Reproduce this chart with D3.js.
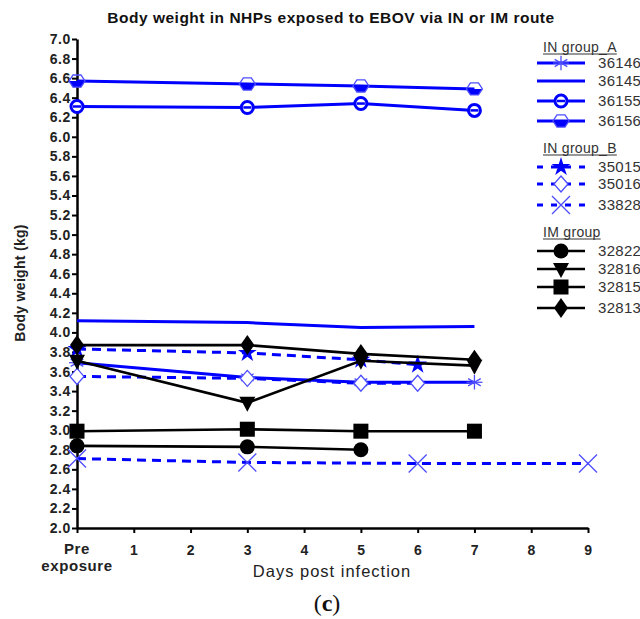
<!DOCTYPE html>
<html>
<head>
<meta charset="utf-8">
<script src="https://cdn.jsdelivr.net/npm/d3@7.9.0/dist/d3.min.js"></script>
<style>
  body { margin: 0; background: #fff; }
  svg { font-family: "Liberation Sans", Arial, sans-serif; }
</style>
</head>
<body>
<svg id="chart" width="640" height="619"></svg>
<script>
// tick labels
const xTicks = [0, 1, 2, 3, 4, 5, 6, 7, 8, 9];
const yTicks = d3.range(2.0, 7.01, 0.2);

// IN group A
const id36146 = { days: [0, 3, 5, 7], kg: [3.69, 3.54, 3.49, 3.49] };
const id36145 = { days: [0, 3, 5, 7], kg: [4.12, 4.10, 4.05, 4.06] };
const id36155 = { days: [0, 3, 5, 7], kg: [6.31, 6.30, 6.34, 6.27] };
const id36156 = { days: [0, 3, 5, 7], kg: [6.57, 6.54, 6.52, 6.49] };
// IN group B
const id35015 = { days: [0, 3, 5, 6], kg: [3.83, 3.79, 3.72, 3.67] };
const id35016 = { days: [0, 3, 5, 6], kg: [3.55, 3.53, 3.48, 3.48] };
const id33828 = { days: [0, 3, 6, 9], kg: [2.71, 2.67, 2.66, 2.66] };
// IM group
const id32822 = { days: [0, 3, 5], kg: [2.84, 2.83, 2.80] };
const id32816 = { days: [0, 3, 5, 7], kg: [3.71, 3.28, 3.71, 3.66] };
const id32815 = { days: [0, 3, 5, 7], kg: [2.99, 3.01, 2.99, 2.99] };
const id32813 = { days: [0, 3, 5, 7], kg: [3.87, 3.87, 3.78, 3.72] };

const BLUE = "#0000ff", LIGHT = "#4d4dff", BLACK = "#000";

const series = [
  { name: "36146", d: id36146, color: BLUE, dash: null, mk: "asterisk" },
  { name: "36145", d: id36145, color: BLUE, dash: null, mk: "none" },
  { name: "36155", d: id36155, color: BLUE, dash: null, mk: "thetacircle" },
  { name: "36156", d: id36156, color: BLUE, dash: null, mk: "hexagon" },
  { name: "35015", d: id35015, color: BLUE, dash: "9,6", mk: "star" },
  { name: "35016", d: id35016, color: BLUE, dash: "9,6", mk: "opendiamond" },
  { name: "33828", d: id33828, color: BLUE, dash: "9,6", mk: "times" },
  { name: "32822", d: id32822, color: BLACK, dash: null, mk: "circle" },
  { name: "32816", d: id32816, color: BLACK, dash: null, mk: "triangle" },
  { name: "32815", d: id32815, color: BLACK, dash: null, mk: "square" },
  { name: "32813", d: id32813, color: BLACK, dash: null, mk: "diamond" }
];

const svg = d3.select("#chart");
const x = d3.scaleLinear().domain([0, 9]).range([77, 588]);
const y = d3.scaleLinear().domain([2, 7]).range([528, 39]);

// title
svg.append("text").attr("x", 331).attr("y", 23).attr("text-anchor", "middle")
  .attr("font-size", 15.5).attr("font-weight", "bold").attr("letter-spacing", 0.5)
  .attr("fill", "#111").text("Body weight in NHPs exposed to EBOV via IN or IM route");

// axes
const yAxis = svg.append("g").attr("transform", "translate(77,0)")
  .call(d3.axisLeft(y).tickValues(yTicks).tickFormat(d3.format(".1f")).tickSize(5).tickSizeOuter(0));
const xAxis = svg.append("g").attr("transform", "translate(0,528)")
  .call(d3.axisBottom(x).tickValues(xTicks).tickFormat(d => d === 0 ? "" : d).tickSize(5).tickSizeOuter(0));
[yAxis, xAxis].forEach(g => {
  g.select(".domain").attr("stroke", "#000").attr("stroke-width", 2.5);
  g.selectAll(".tick line").attr("stroke", "#000").attr("stroke-width", 2);
  g.selectAll(".tick text").attr("fill", "#222").attr("font-size", 14).attr("font-weight", "bold")
    .attr("letter-spacing", 0.6).attr("font-family", "Liberation Sans, Arial, sans-serif");
});
yAxis.selectAll(".tick text").attr("x", -6);
xAxis.selectAll(".tick text").attr("y", 17);
const pre = svg.append("text").attr("text-anchor", "middle").attr("font-size", 15)
  .attr("font-weight", "bold").attr("letter-spacing", 0.6).attr("fill", "#222");
pre.append("tspan").attr("x", x(0)).attr("y", 554).text("Pre");
pre.append("tspan").attr("x", x(0)).attr("y", 571).text("exposure");

svg.append("text").attr("x", 332).attr("y", 577).attr("text-anchor", "middle")
  .attr("font-size", 16.5).attr("letter-spacing", 1).attr("fill", "#222").text("Days post infection");
svg.append("text").attr("transform", "translate(25,283) rotate(-90)").attr("text-anchor", "middle")
  .attr("font-size", 14).attr("font-weight", "bold").attr("letter-spacing", 0.3)
  .attr("fill", "#222").text("Body weight (kg)");
svg.append("text").attr("x", 327).attr("y", 611).attr("text-anchor", "middle")
  .attr("font-size", 24).attr("font-family", "Liberation Serif, serif").attr("fill", "#111")
  .html("(<tspan font-weight='bold'>c</tspan>)");

// marker drawing
function marker(g, type, color, cx, cy) {
  const s = g.append("g").attr("transform", `translate(${cx},${cy})`);
  switch (type) {
    case "asterisk":
      s.append("path").attr("d", d3.symbol(d3.symbolAsterisk, 150)())
        .attr("fill", "none").attr("stroke", LIGHT).attr("stroke-width", 1.3);
      s.append("path").attr("d", "M-8,0H8").attr("stroke", LIGHT).attr("stroke-width", 1.3);
      break;
    case "thetacircle":
      s.append("circle").attr("r", 6).attr("fill", "#fff").attr("stroke", color).attr("stroke-width", 3);
      s.append("path").attr("d", "M-4,0H4").attr("stroke", color).attr("stroke-width", 2.5);
      break;
    case "hexagon": {
      const pts = d3.range(6).map(i => [8 * Math.cos(Math.PI / 3 * i), 7 * Math.sin(Math.PI / 3 * i)]);
      s.append("path").attr("d", "M-8,0L-4,6.1L4,6.1L8,0Z").attr("fill", color);
      s.append("path").attr("d", d3.line()(pts) + "Z").attr("fill", "none")
        .attr("stroke", LIGHT).attr("stroke-width", 1.3);
      break;
    }
    case "star":
      s.append("path").attr("d", d3.symbol(d3.symbolStar, 110)()).attr("fill", color);
      break;
    case "opendiamond":
      s.append("path").attr("d", "M0,-8L7,0L0,8L-7,0Z").attr("fill", "#fff")
        .attr("stroke", LIGHT).attr("stroke-width", 1.3);
      break;
    case "times":
      s.append("path").attr("d", "M-9,-9L9,9M-9,9L9,-9").attr("stroke", LIGHT).attr("stroke-width", 1.3);
      break;
    case "circle":
      s.append("circle").attr("r", 7.5).attr("fill", color);
      break;
    case "triangle":
      s.append("path").attr("d", "M-8,-6L8,-6L0,9Z").attr("fill", color);
      break;
    case "square":
      s.append("rect").attr("x", -7.5).attr("y", -7.5).attr("width", 15).attr("height", 15).attr("fill", color);
      break;
    case "diamond":
      s.append("path").attr("d", "M0,-10L7,0L0,10L-7,0Z").attr("fill", color);
      break;
  }
}

// series lines and markers
const line = d3.line().x(p => x(p[0])).y(p => y(p[1]));
const plot = svg.append("g");
series.forEach(sr => {
  const pts = d3.zip(sr.d.days, sr.d.kg);
  plot.append("path").attr("d", line(pts)).attr("fill", "none")
    .attr("stroke", sr.color).attr("stroke-width", sr.color === BLUE ? 3 : 2.6)
    .attr("stroke-dasharray", sr.dash);
  pts.forEach(p => marker(plot, sr.mk, sr.color, x(p[0]), y(p[1])));
});

// legend
const groups = [
  { title: "IN group_A", y: 47, items: [["36146", 63], ["36145", 81], ["36155", 101], ["36156", 121]] },
  { title: "IN group_B", y: 148, items: [["35015", 167], ["35016", 184], ["33828", 205]] },
  { title: "IM group", y: 232, items: [["32822", 251], ["32816", 269], ["32815", 287], ["32813", 308]] }
];
const leg = svg.append("g");
groups.forEach(gr => {
  const t = leg.append("text").attr("x", 543).attr("y", gr.y + 5).attr("font-size", 14)
    .attr("letter-spacing", 0.3).attr("fill", "#333").text(gr.title);
  const w = t.node().getComputedTextLength();
  leg.append("line").attr("x1", 543).attr("x2", 543 + w).attr("y1", gr.y + 7).attr("y2", gr.y + 7)
    .attr("stroke", "#333").attr("stroke-width", 1);
  gr.items.forEach(([nm, ly]) => {
    const sr = series.find(s => s.name === nm);
    leg.append("path").attr("d", `M537,${ly}H585`).attr("stroke", sr.color)
      .attr("stroke-width", sr.color === BLUE ? 3 : 2.6).attr("stroke-dasharray", sr.dash ? "6,8" : null);
    marker(leg, sr.mk, sr.color, 561, ly);
    leg.append("text").attr("x", 598).attr("y", ly + 5).attr("font-size", 15)
      .attr("letter-spacing", 0.3).attr("fill", "#333").text(nm);
  });
});
</script>
</body>
</html>
